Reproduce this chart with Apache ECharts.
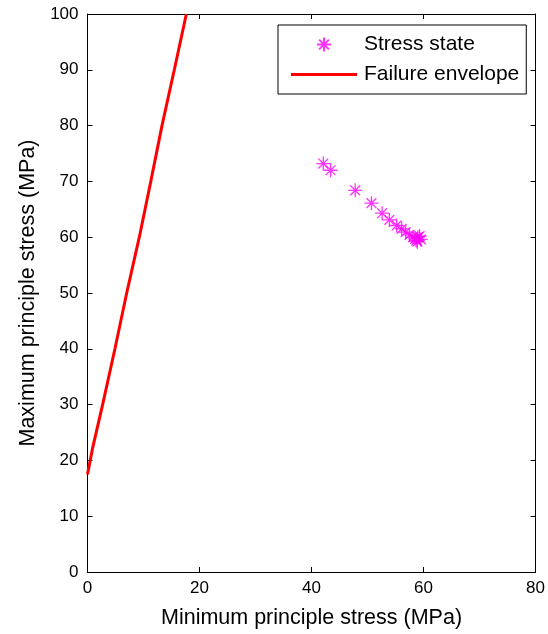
<!DOCTYPE html>
<html>
<head>
<meta charset="utf-8">
<script src="https://cdn.jsdelivr.net/npm/echarts@6/dist/echarts.min.js"></script>
<style>
html,body{margin:0;padding:0;background:#fff;}
#chart{width:548px;height:634px;}
</style>
</head>
<body>
<div id="chart"></div>
<script>
// Stress state points (min principle stress, max principle stress) in MPa
const stressMin = [42.1, 43.4, 47.8, 50.7, 52.6, 53.9, 55.2, 56.1, 56.8, 57.5, 58.1, 58.5, 59.0, 58.7, 59.3, 59.5, 58.9];
const stressMax = [73.2, 72.0, 68.4, 66.1, 64.3, 63.1, 62.1, 61.5, 60.9, 60.4, 60.0, 59.7, 60.0, 59.4, 60.2, 59.6, 59.2];

// Failure envelope
const envMin = [0, 0.93, 2.7, 4.9, 7.0, 9.25, 11.3, 13.3, 15.5, 17.65];
const envMax = [17.5, 22.3, 30, 40, 50, 60, 70, 80, 90, 100];

const xTicks = {min: 0, max: 80, interval: 20};
const yTicks = {min: 0, max: 100, interval: 10};

const seriesNames = ['Stress state', 'Failure envelope'];
const xName = 'Minimum principle stress (MPa)';
const yName = 'Maximum principle stress (MPa)';

const FONT = 'Liberation Sans, Arial, Helvetica, sans-serif';
const chart = echarts.init(document.getElementById('chart'), null, {renderer: 'canvas'});

const axisCommon = {
  axisLine: {show: true, onZero: false, lineStyle: {color: '#000', width: 1}},
  axisTick: {show: true, inside: true, length: 5, lineStyle: {color: '#000', width: 1}},
  splitLine: {show: false}
};

const option = {
  animation: false,
  backgroundColor: '#fff',
  grid: {left: 87.5, right: 12, top: 14, bottom: 59, containLabel: false},
  legend: {
    orient: 'vertical',
    left: 278,
    top: 25,
    padding: [9, 7, 9, 13],
    itemGap: 9,
    itemWidth: 66,
    itemHeight: 14,
    borderColor: '#000',
    borderWidth: 1,
    backgroundColor: '#fff',
    textStyle: {fontFamily: FONT, fontSize: 21, color: '#000', padding: [0, 0, 0, 2]},
    data: [
      {name: seriesNames[0]},
      {name: seriesNames[1], icon: 'path://M0,0L66,0L66,3L0,3Z', itemStyle: {color: '#ff0000'}}
    ]
  },
  xAxis: [
    Object.assign({}, axisCommon, {
      type: 'value', position: 'bottom',
      min: xTicks.min, max: xTicks.max, interval: xTicks.interval,
      name: xName, nameLocation: 'middle', nameGap: 35,
      nameTextStyle: {fontFamily: FONT, fontSize: 21.5, color: '#000'},
      axisLabel: {fontFamily: FONT, fontSize: 17, color: '#000', margin: 8}
    }),
    Object.assign({}, axisCommon, {
      type: 'value', position: 'top',
      min: xTicks.min, max: xTicks.max, interval: xTicks.interval,
      axisLabel: {show: false}
    })
  ],
  yAxis: [
    Object.assign({}, axisCommon, {
      type: 'value', position: 'left',
      min: yTicks.min, max: yTicks.max, interval: yTicks.interval,
      name: yName, nameLocation: 'middle', nameGap: 48,
      nameTextStyle: {fontFamily: FONT, fontSize: 21.5, color: '#000'},
      axisLabel: {fontFamily: FONT, fontSize: 17, color: '#000', margin: 9}
    }),
    Object.assign({}, axisCommon, {
      type: 'value', position: 'right',
      min: yTicks.min, max: yTicks.max, interval: yTicks.interval,
      axisLabel: {show: false}
    })
  ],
  series: [
    {
      name: seriesNames[0],
      type: 'scatter',
      symbol: 'path://M0,-10L0,10M-10,0L10,0M-7,-7L7,7M-7,7L7,-7',
      symbolSize: 14,
      itemStyle: {color: 'rgba(0,0,0,0)', borderColor: '#ff00ff', borderWidth: 1.3},
      data: stressMin.map((v, i) => [v, stressMax[i]]),
      z: 3
    },
    {
      name: seriesNames[1],
      type: 'line',
      symbol: 'none',
      showSymbol: false,
      lineStyle: {color: '#ff0000', width: 3},
      itemStyle: {color: '#ff0000'},
      data: envMin.map((v, i) => [v, envMax[i]]),
      z: 2
    }
  ]
};
chart.setOption(option);
</script>
</body>
</html>
